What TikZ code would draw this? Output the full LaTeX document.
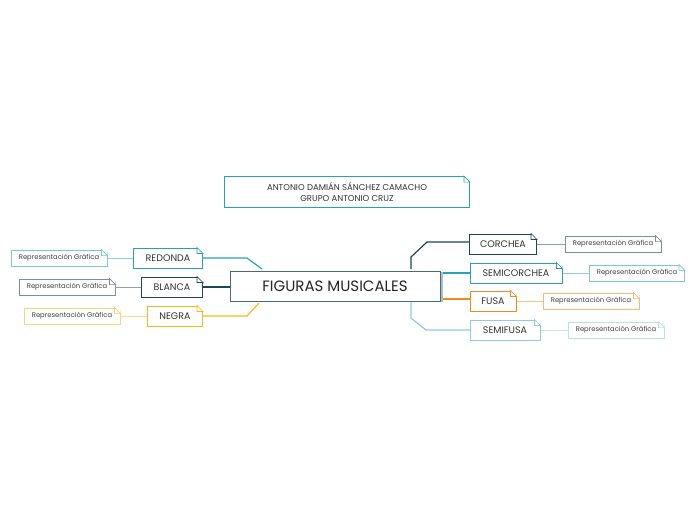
\documentclass[tikz,border=0pt]{standalone}
\usepackage{fontspec}
\setmainfont{Poppins}
\usetikzlibrary{positioning}
\definecolor{mteal}{HTML}{2A9FBC}
\definecolor{navy}{HTML}{1F4459}
\definecolor{gold}{HTML}{F5B820}
\definecolor{orng}{HTML}{F08A1C}
\definecolor{sky}{HTML}{8ECAE6}
\newcommand{\fold}[2]{%
  \fill[white] ([xshift=-6pt]#1.north east) -- ([xshift=0.6pt,yshift=0.6pt]#1.north east) -- ([yshift=-6pt]#1.north east) -- cycle;
  \draw[#2, line width=0.7pt] ([xshift=-6pt]#1.north east) -- ([xshift=-6pt,yshift=-6pt]#1.north east) -- ([yshift=-6pt]#1.north east) -- cycle;}
\begin{document}
\begin{tikzpicture}[x=1pt,y=-1pt,
    topic/.style={draw=#1, line width=1pt, fill=white, minimum height=20pt, inner xsep=4pt, font=\fontsize{9.5}{10}\selectfont, text=black!80},
    rep/.style={draw=#1!60, line width=0.8pt, fill=white, minimum height=16pt, inner xsep=2pt, font=\fontsize{6.8}{7}\selectfont, text=black!75},
    link/.style={draw=#1, line width=1.2pt},
    sub/.style={draw=#1!50, line width=1pt}
]
\useasboundingbox (0,0) rectangle (697,520);
% connectors first
\coordinate (r1) at (247,258); \coordinate (n1) at (247,316);
\coordinate (c0) at (411,269); \coordinate (c1) at (411,257); \coordinate (c2) at (427,242);
\coordinate (f0) at (411,299); \coordinate (f1) at (411,318); \coordinate (f2) at (426,330);
\draw[link=mteal] (203,258) -- (r1) -- (262,269);
\draw[link=navy] (203,287) -- (230,287);
\draw[link=gold] (203,316) -- (n1) -- (259,303);
\draw[link=navy] (c0) -- (c1) -- (c2) -- (470,242);
\draw[link=mteal] (440,273) -- (470,273);
\draw[link=orng] (440,299) -- (470,299);
\draw[link=sky] (f0) -- (f1) -- (f2) -- (470,330);
% title and centre
\node[draw=mteal, line width=0.8pt, minimum width=245pt, minimum height=31pt, align=center, font=\fontsize{8.5}{11}\selectfont, text=black!80] (autor) at (347,192) {ANTONIO DAMIÁN SÁNCHEZ CAMACHO\\GRUPO ANTONIO CRUZ};
\fold{autor}{mteal}
\fill[navy!35] (233,272) rectangle (443,302);
\node[draw=navy!80, line width=1pt, fill=white, minimum width=210pt, minimum height=30pt, font=\fontsize{15}{16}\selectfont, text=black!85] (centro) at (335,286) {FIGURAS MUSICALES};
% left topics
\node[topic=mteal, minimum width=69pt] (redonda) at (168,258) {REDONDA};
\node[topic=navy, minimum width=61pt] (blanca) at (172,287) {BLANCA};
\node[topic=gold, minimum width=55pt] (negra) at (175,316) {NEGRA};
\node[rep=mteal, minimum width=96pt] (rredonda) at (59,258) {Representación Gráfica};
\node[rep=navy, minimum width=96pt] (rblanca) at (67,287) {Representación Gráfica};
\node[rep=gold, minimum width=96pt] (rnegra) at (72,316) {Representación Gráfica};
% right topics
\node[topic=navy, minimum width=67pt] (corchea) at (503,244) {CORCHEA};
\node[topic=mteal, minimum width=92pt] (semicorchea) at (516,273) {SEMICORCHEA};
\node[topic=orng, minimum width=46pt] (fusa) at (493,301) {FUSA};
\node[topic=sky, minimum width=70pt] (semifusa) at (505,330) {SEMIFUSA};
\node[rep=navy, minimum width=96pt] (rcorchea) at (613,244) {Representación Gráfica};
\node[rep=mteal, minimum width=95pt] (rsemicorchea) at (637,273) {Representación Gráfica};
\node[rep=orng, minimum width=96pt] (rfusa) at (591,301) {Representación Gráfica};
\node[rep=sky, minimum width=96pt] (rsemifusa) at (616,330) {Representación Gráfica};
\draw[sub=mteal] (rredonda) -- (redonda);
\draw[sub=navy] (rblanca) -- (blanca);
\draw[sub=gold] (rnegra) -- (negra);
\draw[sub=navy] (corchea) -- (rcorchea);
\draw[sub=mteal] (semicorchea) -- (rsemicorchea);
\draw[sub=orng] (fusa) -- (rfusa);
\draw[sub=sky] (semifusa) -- (rsemifusa);
\foreach \n/\c in {redonda/mteal, blanca/navy, negra/gold, corchea/navy, semicorchea/mteal, fusa/orng, semifusa/sky} {
  \fold{\n}{\c}
  \fold{r\n}{\c!60}
}
\end{tikzpicture}
\end{document}
